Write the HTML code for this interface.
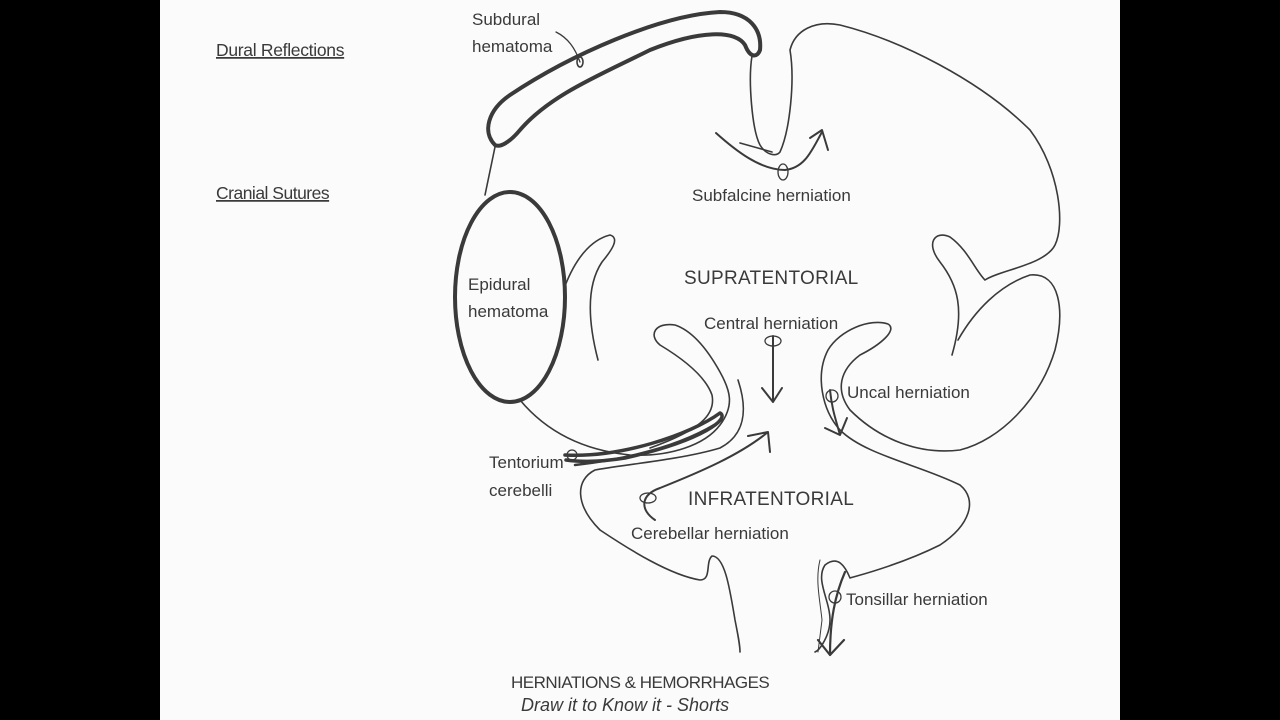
<!DOCTYPE html>
<html><head><meta charset="utf-8"><style>
html,body{margin:0;padding:0;background:#000;}
.wrap{position:relative;width:1280px;height:720px;background:#000;overflow:hidden}
.page{position:absolute;left:160px;top:0;width:960px;height:720px;background:#fbfbfb}
svg{position:absolute;left:0;top:0}
text{font-family:"Liberation Sans Narrow","Liberation Sans",sans-serif;fill:#3a3a3a}
</style></head><body><div class="wrap"><div class="page"></div>
<svg width="1280" height="720" viewBox="0 0 1280 720">
<g fill="none" stroke="#3a3a3a" stroke-width="1.6" stroke-linecap="round" stroke-linejoin="round">
<path stroke-width="4" d="M495,145 C482,132 488,110 510,95 C570,55 660,15 720,12 C750,12 762,30 760,50 C757,58 750,58 745,45 C735,30 700,30 650,50 C600,75 550,95 520,130 C510,142 500,148 495,145 Z"/>
<ellipse cx="510" cy="297" rx="55" ry="105" stroke-width="4"/>
<path d="M495,147 L485,195"/>
<path d="M752,56 C748,80 752,130 760,145 C766,155 776,157 780,152 C790,130 795,80 790,50 C795,30 815,20 840,25 C900,40 980,80 1030,130 C1060,170 1065,225 1055,245 C1045,265 1000,270 985,280 C975,270 968,250 950,237 C935,230 925,243 940,262 C958,285 965,310 952,355"/>
<path d="M958,340 C975,310 1000,285 1030,275 C1060,272 1065,310 1055,350 C1040,400 1000,440 960,450 C920,455 880,440 850,410 C835,390 840,370 860,355 C880,345 898,330 888,324 C870,318 840,330 828,350 C815,375 822,410 840,430 C865,455 920,465 960,485 C978,500 970,525 940,545 C900,565 860,575 850,578 C845,566 838,555 825,565 C815,580 830,600 830,620 C830,635 820,650 815,652"/>
<path d="M520,400 C545,430 580,450 630,455 C670,457 705,445 720,425 C735,405 730,390 720,372 C705,345 690,330 675,325 C655,322 648,335 660,345 C680,357 705,375 712,395 C716,415 700,430 650,448"/>
<path d="M565,286 C575,260 590,240 610,235 C620,238 612,250 602,262 C590,280 585,310 598,360"/>
<path d="M738,380 C748,410 745,435 720,448 C680,460 620,465 595,470 C575,480 575,505 600,530 C630,550 670,575 700,580 C712,580 705,562 712,556 C725,556 730,590 735,620 C738,635 740,645 740,652"/>
<path stroke-width="3.5" d="M565,455 C620,458 690,435 720,413 C730,418 705,440 625,458 C600,462 580,462 566,460"/>
<path stroke-width="2.5" d="M575,465 C620,460 680,448 722,420"/>
<circle cx="572" cy="455" r="5" stroke-width="1.2"/>
<path stroke-width="1.3" d="M556,32 C568,38 575,48 580,62"/>
<ellipse cx="580" cy="62" rx="3" ry="5"/>
<path stroke-width="2" d="M716,133 C735,150 760,170 785,170 C805,168 812,150 822,132"/>
<path stroke-width="2" d="M810,138 L822,130 L828,150"/>
<path d="M740,143 L772,152"/>
<ellipse cx="783" cy="172" rx="5" ry="8" stroke-width="1.3"/>
<ellipse cx="773" cy="341" rx="8" ry="5" stroke-width="1.3"/>
<path stroke-width="2" d="M773,336 L773,402 M762,388 L773,402 L782,388"/>
<ellipse cx="648" cy="498" rx="8" ry="5" stroke-width="1.3"/>
<path stroke-width="2" d="M655,520 C640,510 640,495 660,488 C700,472 740,455 768,432 M748,436 L768,432 L770,452"/>
<circle cx="832" cy="396" r="6" stroke-width="1.3"/>
<path stroke-width="2" d="M830,390 C832,410 836,420 840,435 M825,428 L840,435 L847,418"/>
<circle cx="835" cy="597" r="6" stroke-width="1.3"/>
<path stroke-width="2.2" d="M845,572 C835,595 830,620 830,655 M818,640 L830,655 L844,640"/>
<path stroke-width="1" d="M820,560 C815,580 820,600 822,620 L818,652"/>
</g>
<g font-size="17">
<text x="216" y="56" font-size="17.5" style="text-decoration:underline" letter-spacing="-0.3">Dural Reflections</text>
<text x="216" y="199" font-size="17.5" style="text-decoration:underline" letter-spacing="-0.5">Cranial Sutures</text>
<text x="472" y="25">Subdural</text>
<text x="472" y="52">hematoma</text>
<text x="468" y="290">Epidural</text>
<text x="468" y="317">hematoma</text>
<text x="692" y="201">Subfalcine herniation</text>
<text x="684" y="284" font-size="19" letter-spacing="0.3">SUPRATENTORIAL</text>
<text x="704" y="329">Central herniation</text>
<text x="847" y="398">Uncal herniation</text>
<text x="489" y="468">Tentorium</text>
<text x="489" y="496">cerebelli</text>
<text x="688" y="505" font-size="19" letter-spacing="0.3">INFRATENTORIAL</text>
<text x="631" y="539">Cerebellar herniation</text>
<text x="846" y="605">Tonsillar herniation</text>
<text x="511" y="688" letter-spacing="-0.5">HERNIATIONS &amp; HEMORRHAGES</text>
<text x="521" y="711" font-style="italic" font-size="18">Draw it to Know it - Shorts</text>
</g>
</svg></div></body></html>
